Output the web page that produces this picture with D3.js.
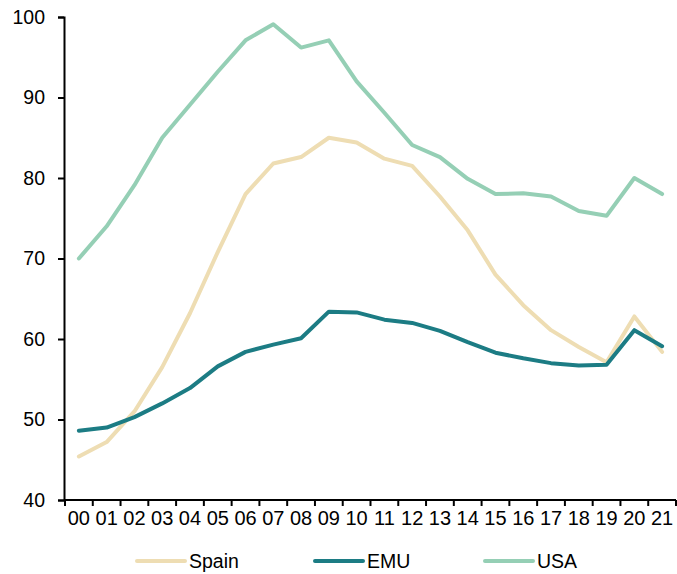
<!DOCTYPE html>
<html>
<head>
<meta charset="utf-8">
<script src="https://cdn.jsdelivr.net/npm/d3@7"></script>
<style>
  body { margin: 0; background: #fff; }
  svg { font-family: "Liberation Sans", Arial, sans-serif; }
</style>
</head>
<body>
<div id="chart"></div>
<script>
const years = ['00','01','02','03','04','05','06','07','08','09','10','11','12','13','14','15','16','17','18','19','20','21'];
const spain = [45.4, 47.2, 51.0, 56.5, 63.2, 70.8, 78.0, 81.8, 82.6, 85.0, 84.4, 82.4, 81.5, 77.7, 73.5, 68.0, 64.2, 61.1, 59.0, 57.1, 62.8, 58.4];
const emu = [48.6, 49.0, 50.3, 52.0, 53.9, 56.6, 58.4, 59.3, 60.1, 63.4, 63.3, 62.4, 62.0, 61.0, 59.6, 58.3, 57.6, 57.0, 56.7, 56.8, 61.1, 59.1];
const usa = [70.0, 74.0, 79.1, 85.0, 89.1, 93.2, 97.1, 99.1, 96.2, 97.1, 92.0, 88.1, 84.1, 82.6, 79.9, 78.0, 78.1, 77.7, 75.9, 75.3, 80.0, 78.0];
const yTicks = [40, 50, 60, 70, 80, 90, 100];

const series = [
  { name: 'Spain', values: spain, color: '#EEDDB3' },
  { name: 'EMU', values: emu, color: '#1C7C84' },
  { name: 'USA', values: usa, color: '#95CFB5' }
];

const width = 677, height = 574;
const margin = { left: 64, right: 1, top: 17, bottom: 74 };
const fontSize = 19.5;

const svg = d3.select('#chart').append('svg')
  .attr('width', width)
  .attr('height', height);

const x = d3.scaleBand().domain(years).range([margin.left + 1, width - margin.right]);
const y = d3.scaleLinear().domain([40, 100]).range([height - margin.bottom, margin.top]);

// y axis
const yAxis = svg.append('g')
  .attr('transform', `translate(${margin.left},0)`)
  .call(d3.axisLeft(y).tickValues(yTicks).tickSize(6).tickPadding(13));
yAxis.selectAll('text')
  .attr('font-size', fontSize)
  .attr('fill', '#000')
  .attr('font-family', 'Liberation Sans, Arial, sans-serif');
yAxis.select('.domain').attr('stroke-width', 2);
yAxis.selectAll('.tick line').attr('stroke-width', 2);

// x axis: ticks on band edges, labels in band centres
const xAxisG = svg.append('g').attr('transform', `translate(0,${y(40)})`);
xAxisG.append('line')
  .attr('x1', margin.left).attr('x2', width - margin.right)
  .attr('stroke', '#000').attr('stroke-width', 2);
const edges = years.map(d => x(d)).concat([x(years[years.length - 1]) + x.bandwidth()]);
xAxisG.selectAll('line.tick').data(edges).join('line')
  .attr('class', 'tick')
  .attr('x1', d => d).attr('x2', d => d)
  .attr('y1', 0).attr('y2', 6)
  .attr('stroke', '#000').attr('stroke-width', 2);
xAxisG.selectAll('text').data(years).join('text')
  .attr('x', d => x(d) + x.bandwidth() / 2)
  .attr('y', 24.5)
  .attr('text-anchor', 'middle')
  .attr('font-size', 20)
  .text(d => d);

const line = d3.line()
  .x((d, i) => x(years[i]) + x.bandwidth() / 2)
  .y(d => y(d));

svg.append('g').selectAll('path')
  .data(series)
  .join('path')
  .attr('fill', 'none')
  .attr('stroke', d => d.color)
  .attr('stroke-width', 4)
  .attr('stroke-linejoin', 'round')
  .attr('stroke-linecap', 'round')
  .attr('d', d => line(d.values));

// legend
const legendX = [137, 315, 485];
const legend = svg.append('g').attr('transform', 'translate(0,561)');
const item = legend.selectAll('g').data(series).join('g')
  .attr('transform', (d, i) => `translate(${legendX[i]},0)`);
item.append('line')
  .attr('x1', 0).attr('x2', 48)
  .attr('stroke', d => d.color)
  .attr('stroke-width', 4)
  .attr('stroke-linecap', 'round');
item.append('text')
  .attr('x', 52)
  .attr('y', 7)
  .attr('font-size', fontSize)
  .text(d => d.name);
</script>
</body>
</html>
